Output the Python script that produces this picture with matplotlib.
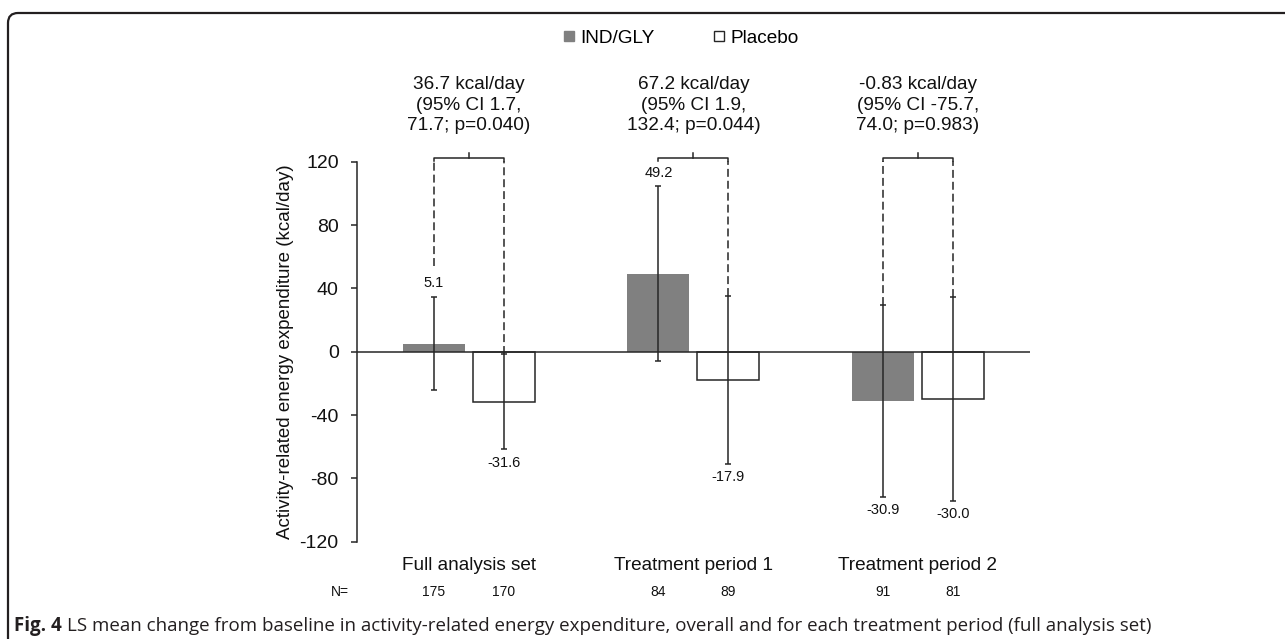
import matplotlib
matplotlib.use("Agg")
import matplotlib.pyplot as plt
import matplotlib.transforms as mtransforms
from matplotlib.patches import FancyBboxPatch
from matplotlib.lines import Line2D
import numpy as np

# data
categories = ['Full analysis set', 'Treatment period 1', 'Treatment period 2']
ind_mean = [5.1, 49.2, -30.9]
pbo_mean = [-31.6, -17.9, -30.0]
ind_lo = [-24.4, -6.1, -91.5]
ind_hi = [34.6, 104.5, 29.6]
pbo_lo = [-61.5, -70.8, -94.3]
pbo_hi = [-1.5, 35.0, 34.3]
n_ind = [175, 84, 91]
n_pbo = [170, 89, 81]
diff_labels = ['36.7 kcal/day\n(95% CI 1.7,\n71.7; p=0.040)',
               '67.2 kcal/day\n(95% CI 1.9,\n132.4; p=0.044)',
               '-0.83 kcal/day\n(95% CI -75.7,\n74.0; p=0.983)']

plt.rcParams['font.family'] = ['Liberation Sans', 'DejaVu Sans']
plt.rcParams['axes.unicode_minus'] = False
DARK = '#262626'
W, H = 1285, 639

fig = plt.figure(figsize=(W / 100, H / 100), dpi=100)
ax = fig.add_axes([356.7 / W, 1 - 541.7 / H, (1030 - 356.7) / W, (541.7 - 161.7) / H])

x = np.arange(len(categories))
bw = 0.276
off = 0.156
xi = x - off
xp = x + off

ax.bar(xi, ind_mean, bw, color='#808080', edgecolor='none', zorder=2)
ax.bar(xp, pbo_mean, bw, color='white', edgecolor=DARK, linewidth=1.1, zorder=2)

ierr = [np.array(ind_mean) - np.array(ind_lo), np.array(ind_hi) - np.array(ind_mean)]
perr = [np.array(pbo_mean) - np.array(pbo_lo), np.array(pbo_hi) - np.array(pbo_mean)]
ax.errorbar(xi, ind_mean, yerr=ierr, fmt='none', ecolor=DARK, elinewidth=1.1, capsize=2.2,
            capthick=1.1, zorder=3)
ax.errorbar(xp, pbo_mean, yerr=perr, fmt='none', ecolor=DARK, elinewidth=1.1, capsize=2.2,
            capthick=1.1, zorder=3)

ax.axhline(0, color=DARK, linewidth=1.1, zorder=4)

# value labels above / below the CI
lab_off = 8.5
for xs, m, lo, hi in [(xi, ind_mean, ind_lo, ind_hi), (xp, pbo_mean, pbo_lo, pbo_hi)]:
    for k in range(len(xs)):
        if m[k] >= 0:
            ax.text(xs[k], hi[k] + lab_off, f'{m[k]:.1f}', ha='center', va='center', fontsize=10.5,
                    color='#111111')
        else:
            ax.text(xs[k], lo[k] - lab_off, f'{m[k]:.1f}', ha='center', va='center', fontsize=10.5,
                    color='#111111')

# brackets with dashed legs
br_y = 122.2
for k in range(len(categories)):
    starts = []
    for xs, m, hi in [(xi, ind_mean, ind_hi), (xp, pbo_mean, pbo_hi)]:
        if m[k] >= 0:
            s = hi[k] + lab_off + 11
        else:
            s = hi[k]
        starts.append(s)
    ax.plot([xi[k], xi[k], xp[k], xp[k]], [br_y - 1.5, br_y, br_y, br_y - 1.5], color=DARK,
            linewidth=1.1, clip_on=False, solid_joinstyle='round')
    ax.plot([x[k], x[k]], [br_y, br_y + 3.5], color=DARK, linewidth=1.1, clip_on=False)
    for xx, s in zip([xi[k], xp[k]], starts):
        if s < br_y - 1.5:
            ax.plot([xx, xx], [s, br_y - 1.5], color=DARK, linewidth=1.1, clip_on=False,
                    linestyle=(0, (5.2, 2.6)))

ax.set_xlim(-0.5, 2.5)
ax.set_ylim(-120, 120)
ax.set_yticks([-120, -80, -40, 0, 40, 80, 120])
ax.tick_params(axis='y', direction='out', length=4, width=1.1, color=DARK, pad=9,
               labelsize=14, labelcolor='#111111')
ax.set_xticks([])
for s in ['top', 'right', 'bottom']:
    ax.spines[s].set_visible(False)
ax.spines['left'].set_color(DARK)
ax.spines['left'].set_linewidth(1.1)
ax.set_ylabel('Activity-related energy expenditure (kcal/day)', fontsize=13.5, labelpad=4,
              color='#111111')

# category labels and N row
for k in range(len(categories)):
    ax.text(x[k], -134.8, categories[k], ha='center', va='center', fontsize=13.7,
            clip_on=False, color='#111111')
    ax.text(xi[k], -152, str(n_ind[k]), ha='center', va='center', fontsize=10, clip_on=False,
            color='#111111')
    ax.text(xp[k], -152, str(n_pbo[k]), ha='center', va='center', fontsize=10, clip_on=False,
            color='#111111')
ax.text(-0.5 - 16.7 / 224.4, -152, 'N=', ha='center', va='center', fontsize=10, clip_on=False,
        color='#111111')

# difference annotations above groups
trans = mtransforms.blended_transform_factory(ax.transData, fig.transFigure)
for k in range(len(categories)):
    fig.text(x[k], 1 - 105 / H, diff_labels[k], transform=trans, ha='center', va='center',
             fontsize=13.7, linespacing=1.28, color='#111111')

# legend
handles = [Line2D([], [], marker='s', linestyle='none', markersize=7.5, markerfacecolor='#808080',
                  markeredgecolor='#808080'),
           Line2D([], [], marker='s', linestyle='none', markersize=7, markerfacecolor='white',
                  markeredgecolor=DARK, markeredgewidth=1.0)]
fig.legend(handles, ['IND/GLY', 'Placebo'], loc='center', bbox_to_anchor=(680.5 / W, 1 - 38 / H),
           ncol=2, frameon=False, fontsize=13.7, handlelength=0.7, handletextpad=0.25,
           columnspacing=3.0)

# outer frame (rounded top-left corner, runs off the right and bottom)
frame = FancyBboxPatch((8, -30), W + 40, H - 13 + 30, boxstyle='round,pad=0,rounding_size=10',
                       transform=mtransforms.IdentityTransform(), facecolor='none',
                       edgecolor='#231f20', linewidth=1.6)
fig.add_artist(frame)

# caption
cap_y = 1 - 626 / H
t1 = fig.text(14 / W, cap_y, 'Fig. 4', fontsize=13.5, fontweight='bold', family='Open Sans',
              va='center', ha='left', color='#231f20')
r = fig.canvas.get_renderer()
bb = t1.get_window_extent(renderer=r)
fig.text((bb.x1 + 5) / W, cap_y,
         'LS mean change from baseline in activity-related energy expenditure, overall and for each '
         'treatment period (full analysis set)',
         fontsize=13.5, family='Open Sans', va='center', ha='left', color='#231f20')

fig.savefig('out.png', dpi=100)
